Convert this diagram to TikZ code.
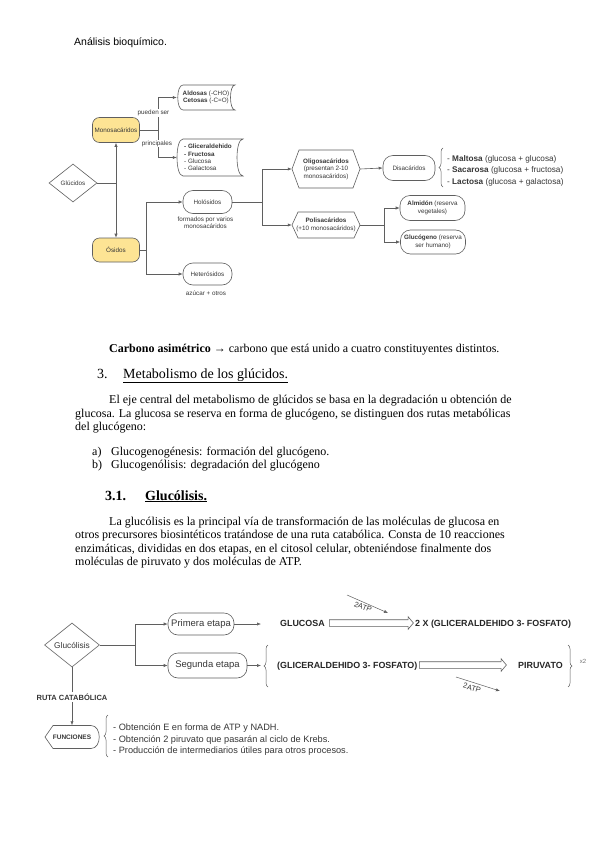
\documentclass[tikz,border=0pt]{standalone}
\usepackage{fontspec}
\setmainfont{Liberation Serif}
\newfontfamily\arial{Liberation Sans}
\usetikzlibrary{arrows.meta,shapes.geometric,shapes.arrows,decorations.pathreplacing,calc}
\definecolor{yel}{RGB}{253,228,148}
\definecolor{lncol}{RGB}{95,95,95}
\definecolor{txcol}{RGB}{55,55,55}
\begin{document}
\begin{tikzpicture}[x=1pt,y=-1pt,
  conn/.style={draw=lncol, line width=0.6pt},
  arr/.style={conn, -{Latex[length=4pt,width=3.2pt]}},
  tsm/.style={font=\arial\fontsize{6.3}{7.4}\selectfont, text=txcol, inner sep=0pt, align=center},
  tlist/.style={font=\arial\fontsize{8.2}{9.5}\selectfont, text=txcol, inner sep=0pt, anchor=base west},
  tbot/.style={font=\arial\fontsize{9.5}{11}\selectfont, text=txcol, inner sep=0pt, align=center},
  tfun/.style={font=\arial\fontsize{9.2}{11}\selectfont, text=txcol, inner sep=0pt, anchor=base west},
  tbold/.style={font=\arial\bfseries\fontsize{8.9}{10}\selectfont, text=black!85, inner sep=0pt, anchor=base west},
  stad/.style={conn, rounded corners=10pt, fill=white, inner sep=0pt, align=center},
  ybox/.style={conn, rounded corners=7pt, fill=yel, inner sep=0pt, align=center},
  ghost/.style={rectangle, draw=none, inner sep=0pt, align=center},
  body/.style={font=\fontsize{12}{14}\selectfont, inner sep=0pt, anchor=base west},
  head/.style={font=\fontsize{14}{16}\selectfont, inner sep=0pt, anchor=base west},
  brc/.style={conn, line width=0.5pt, decorate, decoration={brace, amplitude=4pt}},
  harrow/.style={single arrow, draw=lncol, line width=0.6pt, fill=white, inner sep=3pt,
     single arrow head extend=3pt, single arrow tip angle=100}
]
\useasboundingbox (0,0) rectangle (600,848);
\fill[white] (0,0) rectangle (600,848);

% header
\node[anchor=base west, inner sep=0pt, font=\arial\fontsize{10.5}{12}\selectfont] (hdr) at (74,46) {Análisis bioquímico.};

% ---------------- top diagram ----------------
\node[ybox, tsm, minimum width=47pt, minimum height=25pt] (mono) at (116,130) {Monosacáridos};
\node[ybox, tsm, minimum width=47pt, minimum height=24pt] (osid) at (116,250) {Ósidos};
\node[diamond, conn, fill=white, inner sep=0pt, minimum width=48pt, minimum height=38pt, tsm] (gluc) at (73,183) {\makebox[0pt]{Glúcidos}};

% data storage shapes
\draw[conn] (183,85) -- (235,85) .. controls (229,85) and (229,110) .. (235,110) -- (183,110) .. controls (176,110) and (176,85) .. (183,85);
\node[ghost, tsm, minimum width=58pt, minimum height=25pt] (ald) at (206,97.5) {\textbf{Aldosas} (-CHO)\\\textbf{Cetosas} (-C=O)};
\draw[conn] (183,139) -- (243,139) .. controls (235,139) and (235,176) .. (243,176) -- (183,176) .. controls (175,176) and (175,139) .. (183,139);
\node[ghost, minimum width=66pt, minimum height=37pt] (lst) at (210,157.5) {};
\node[tsm, align=left, anchor=west] (lsttxt) at (184,157.5) {\textbf{- Gliceraldehido}\\\textbf{- Fructosa}\\- Glucosa\\- Galactosa};

\coordinate (j1) at (158,130);
\draw[conn] (mono.east) -- (j1);
\draw[arr] (j1) |- (ald.west);
\draw[arr] (j1) |- (lst.west);
\node[tsm, fill=white, inner sep=1pt] (lpued) at (153.5,113) {pueden ser};
\node[tsm, fill=white, inner sep=1pt] (lprin) at (157,143.5) {principales};

\coordinate (j0) at (116,183);
\draw[conn] (gluc.east) -- (j0);
\draw[arr] (j0) -- (mono.south);
\draw[arr] (j0) -- (osid.north);

\node[stad, tsm, minimum width=49pt, minimum height=23pt] (hol) at (207.5,202) {Holósidos};
\node[tsm] (holl) at (205.5,223) {formados por varios\\monosacáridos};
\node[stad, tsm, minimum width=49pt, minimum height=22pt] (het) at (207.5,274) {Heterósidos};
\node[tsm] (hetl) at (206,293) {azúcar + otros};

\coordinate (j2) at (146,250);
\draw[conn] (osid.east) -- (j2);
\draw[arr] (j2) |- (hol.west);
\draw[arr] (j2) |- (het.west);

% hexagons
\draw[conn] (299,150) -- (353,150) -- (360,169) -- (353,188) -- (299,188) -- (292,169) -- cycle;
\node[ghost, tsm, minimum width=68pt, minimum height=38pt] (oli) at (326,169) {\textbf{Oligosacáridos}\\(presentan 2-10\\monosacáridos)};
\draw[conn] (298,212) -- (354,212) -- (360,225) -- (354,238) -- (298,238) -- (292,225) -- cycle;
\node[ghost, tsm, minimum width=68pt, minimum height=26pt] (pol) at (326,225) {\textbf{Polisacáridos}\\(+10 monosacáridos)};

\coordinate (j3) at (262,202);
\draw[conn] (hol.east) -- (j3);
\draw[arr] (j3) |- (oli.west);
\draw[arr] (j3) |- (pol.west);

\node[stad, tsm, minimum width=52pt, minimum height=25pt] (dis) at (409,168) {Disacáridos};
\draw[arr] (oli.east) -- (dis.west);

\draw[brc] (443,187) -- (443,148);
\node[tlist] (m1) at (447,161) {- \textbf{Maltosa} (glucosa + glucosa)};
\node[tlist] (m2) at (447,172.5) {- \textbf{Sacarosa} (glucosa + fructosa)};
\node[tlist] (m3) at (447,184) {- \textbf{Lactosa} (glucosa + galactosa)};

\node[stad, tsm, minimum width=65pt, minimum height=25pt] (alm) at (432.5,208) {\textbf{Almidón} (reserva\\vegetales)};
\node[stad, tsm, minimum width=65pt, minimum height=24pt] (glg) at (433,242) {\textbf{Glucógeno} (reserva\\ser humano)};
\coordinate (j4) at (384,225);
\draw[conn] (pol.east) -- (j4);
\draw[arr] (j4) |- (alm.west);
\draw[arr] (j4) |- (glg.west);

% ---------------- body text ----------------
\node[body] (c1) at (109,352) {\textbf{Carbono asimétrico} → carbono que está unido a cuatro constituyentes distintos.};
\node[head] (s3n) at (97,378) {3.};
\node[head] (s3t) at (123,378) {\underline{Metabolismo de los glúcidos.}};
\node[body] (p1a) at (109,403) {El eje central del metabolismo de glúcidos se basa en la degradación u obtención de};
\node[body] (p1b) at (75,417) {glucosa. La glucosa se reserva en forma de glucógeno, se distinguen dos rutas metabólicas};
\node[body] (p1c) at (75,430) {del glucógeno:};
\node[body] (la) at (92,455) {a)};
\node[body] (lat) at (111,455) {Glucogenogénesis: formación del glucógeno.};
\node[body] (lb) at (92,468) {b)};
\node[body] (lbt) at (111,468) {Glucogenólisis: degradación del glucógeno};
\node[head, font=\bfseries\fontsize{14}{16}\selectfont] (s31n) at (105,500) {3.1.};
\node[head, font=\bfseries\fontsize{14}{16}\selectfont] (s31t) at (145,500) {\underline{Glucólisis.}};
\node[body] (p2a) at (109,525) {La glucólisis es la principal vía de transformación de las moléculas de glucosa en};
\node[body] (p2b) at (75,538.5) {otros precursores biosintéticos tratándose de una ruta catabólica. Consta de 10 reacciones};
\node[body] (p2c) at (75,552) {enzimáticas, divididas en dos etapas, en el citosol celular, obteniéndose finalmente dos};
\node[body] (p2d) at (75,565) {moléculas de piruvato y dos moléculas de ATP.};

% ---------------- bottom diagram ----------------
\node[diamond, conn, fill=white, inner sep=0pt, minimum width=55pt, minimum height=44pt, tbot, font=\arial\fontsize{8.3}{9}\selectfont] (glc) at (72,645) {\makebox[0pt]{Glucólisis}};
\node[stad, tbot, minimum width=66pt, minimum height=22pt] (pri) at (201,624) {Primera etapa};
\node[stad, tbot, minimum width=79pt, minimum height=25pt] (seg) at (207.5,665.5) {Segunda etapa};
\coordinate (j5) at (135,645);
\draw[conn] (glc.east) -- (j5);
\draw[arr] (j5) |- (pri.west);
\draw[arr] (j5) |- (seg.west);

\coordinate (a1) at (261,624);
\coordinate (a2) at (261,665.5);
\draw[arr] (pri.east) -- (a1);
\draw[arr] (seg.east) -- (a2);

\node[tbold] (glcs) at (280,626.5) {GLUCOSA};
\node[harrow, minimum height=84pt] (ha1) at (370,623) {};
\node[tbold] (prod1) at (415,626.5) {2 X (GLICERALDEHIDO 3- FOSFATO)};
\coordinate (t1a) at (347,595);
\coordinate (t1b) at (388,613);
\draw[arr, line width=0.5pt] (t1a) -- (t1b);
\node[tbot, rotate=-22, font=\arial\fontsize{7.5}{9}\selectfont] (atp1) at (363,607) {2ATP};

\draw[brc] (268,687) -- (268,645);
\node[tbold] (gli2) at (277,668.5) {(GLICERALDEHIDO 3- FOSFATO)};
\node[harrow, minimum height=87pt] (ha2) at (461.5,665) {};
\node[tbold] (piru) at (518,668.5) {PIRUVATO};
\draw[brc] (568,645) -- (568,687);
\node[tbot, font=\arial\fontsize{6}{7}\selectfont, text=black!55] (x2) at (583,661) {x2};
\coordinate (t2a) at (456,677);
\coordinate (t2b) at (500,691);
\draw[arr, line width=0.5pt] (t2a) -- (t2b);
\node[tbot, rotate=-17, font=\arial\fontsize{7.5}{9}\selectfont] (atp2) at (472,688) {2ATP};

% funciones
\draw[conn] (53,725.5) -- (91,725.5) .. controls (102,725.5) and (102,748.5) .. (91,748.5) -- (53,748.5) -- (45,737) -- cycle;
\node[ghost, minimum width=55pt, minimum height=23pt, font=\arial\bfseries\fontsize{6.5}{8}\selectfont, text=txcol] (fun) at (72,737) {FUNCIONES};
\draw[arr] (glc.south) -- (fun.north);
\node[fill=white, inner sep=1.5pt, font=\arial\bfseries\fontsize{7.5}{8}\selectfont, text=txcol] (ruta) at (72,697) {RUTA CATABÓLICA};

\draw[brc] (108,757) -- (108,715);
\node[tfun] (f1) at (113,730) {- Obtención E en forma de ATP y NADH.};
\node[tfun] (f2) at (113,742) {- Obtención 2 piruvato que pasarán al ciclo de Krebs.};
\node[tfun] (f3) at (113,753.5) {- Producción de intermediarios útiles para otros procesos.};
\end{tikzpicture}
\end{document}
